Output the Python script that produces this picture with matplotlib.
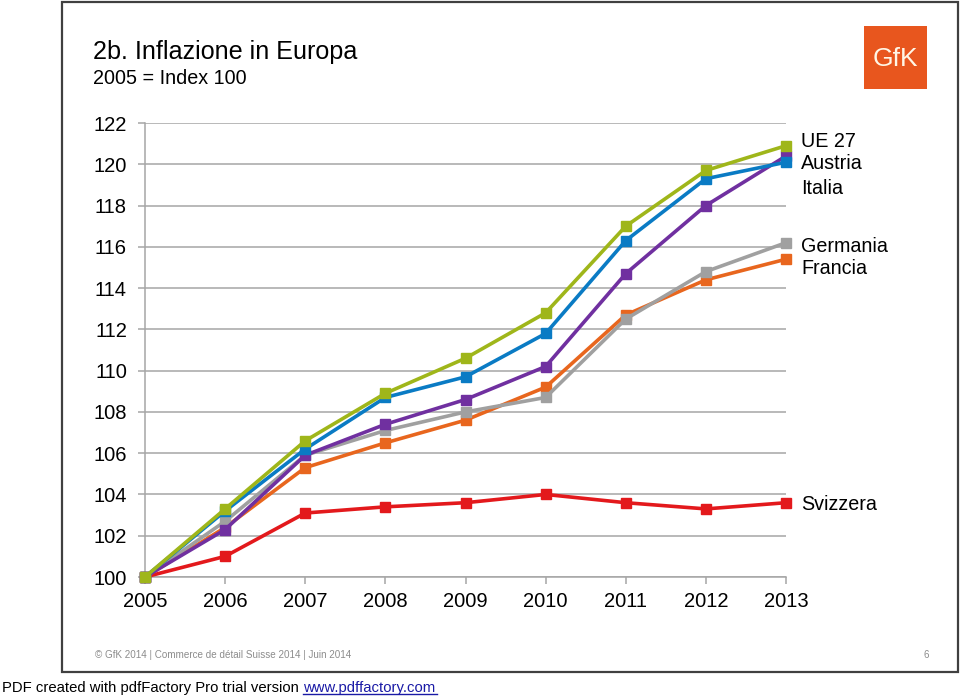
import matplotlib
matplotlib.use('Agg')
import matplotlib.pyplot as plt
from matplotlib.patches import Rectangle

plt.rcParams['font.family'] = ['Liberation Sans', 'DejaVu Sans']

years = [2005, 2006, 2007, 2008, 2009, 2010, 2011, 2012, 2013]

ue27 = [100, 103.3, 106.6, 108.9, 110.6, 112.8, 117.0, 119.7, 120.9]
italia = [100, 103.2, 106.2, 108.7, 109.7, 111.8, 116.3, 119.3, 120.1]
austria = [100, 102.3, 105.9, 107.4, 108.6, 110.2, 114.7, 118.0, 120.4]
germania = [100, 102.7, 105.9, 107.1, 108.0, 108.7, 112.5, 114.8, 116.2]
francia = [100, 102.4, 105.3, 106.5, 107.6, 109.2, 112.7, 114.4, 115.4]
svizzera = [100, 101.0, 103.1, 103.4, 103.6, 104.0, 103.6, 103.3, 103.6]

yticks = [100, 102, 104, 106, 108, 110, 112, 114, 116, 118, 120, 122]

# order of drawing: lowest first so the top lines sit above
series = [
    ('Svizzera', svizzera, '#e3191c'),
    ('Francia', francia, '#e8661e'),
    ('Germania', germania, '#a0a0a0'),
    ('Austria', austria, '#7030a0'),
    ('Italia', italia, '#0a7bc4'),
    ('UE 27', ue27, '#9fb61a'),
]

# label positions on the right (data y-values)
label_y = {'UE 27': 121.1, 'Austria': 120.05, 'Italia': 118.85,
           'Germania': 116.0, 'Francia': 114.95, 'Svizzera': 103.5}

fig = plt.figure(figsize=(9.6, 6.99), dpi=100)

# outer slide frame
fig.patches.append(Rectangle((62 / 960, 1 - 672 / 699), 896 / 960, 670 / 699,
                             transform=fig.transFigure, fill=False,
                             edgecolor='#404040', linewidth=1.6))

ax = fig.add_axes([145 / 960, 1 - 577 / 699, (786 - 145) / 960, (577 - 123) / 699])

for name, vals, col in series:
    ax.plot(years, vals, '-s', color=col, linewidth=2.6, markersize=7.5,
            clip_on=False, zorder=3)
    ax.text(2013.19, label_y[name], name, fontsize=14.2, va='center', ha='left')

ax.set_xlim(2005, 2013)
ax.set_ylim(100, 122)
ax.set_xticks(years)
ax.set_xticklabels([str(y) for y in years], fontsize=14.5)
ax.set_yticks(yticks)
ax.set_yticklabels([str(y) for y in yticks], fontsize=14.5)
ax.grid(axis='y', color='#a6a6a6', linewidth=1.1)
ax.set_axisbelow(True)
for s in ['top', 'right']:
    ax.spines[s].set_visible(False)
for s in ['left', 'bottom']:
    ax.spines[s].set_color('#a6a6a6')
    ax.spines[s].set_linewidth(1.1)
ax.tick_params(axis='both', color='#a6a6a6', length=5, width=1.1)
ax.tick_params(axis='x', pad=6)
ax.tick_params(axis='y', pad=8)

fig.text(93 / 960, 1 - 52 / 699, '2b. Inflazione in Europa', fontsize=18.1, va='center')
fig.text(93 / 960, 1 - 78 / 699, '2005 = Index 100', fontsize=14.2, va='center')

# GfK logo
fig.patches.append(Rectangle((864 / 960, 1 - 89 / 699), 63 / 960, 63 / 699,
                             transform=fig.transFigure, facecolor='#e8561e',
                             edgecolor='none'))
fig.text(895 / 960, 1 - 59 / 699, 'GfK', fontsize=19, color='#fff6e6',
         ha='center', va='center')

fig.text(95 / 960, 1 - 655 / 699, '\u00a9 GfK 2014 | Commerce de d\u00e9tail Suisse 2014 | Juin 2014',
         fontsize=7.1, color='#8c8c8c', va='center')
fig.text(924 / 960, 1 - 655 / 699, '6', fontsize=7.1, color='#8c8c8c', va='center')

fig.text(2 / 960, 1 - 688 / 699, 'PDF created with pdfFactory Pro trial version ',
         fontsize=10.7, va='center')
fig.text(303 / 960, 1 - 688 / 699, 'www.pdffactory.com', fontsize=10.7,
         va='center', color='#1a1aa6')
fig.add_artist(plt.Line2D([303 / 960, 437 / 960], [1 - 694 / 699, 1 - 694 / 699],
                          color='#1a1aa6', linewidth=1, transform=fig.transFigure))

fig.savefig('out.png', dpi=100)
